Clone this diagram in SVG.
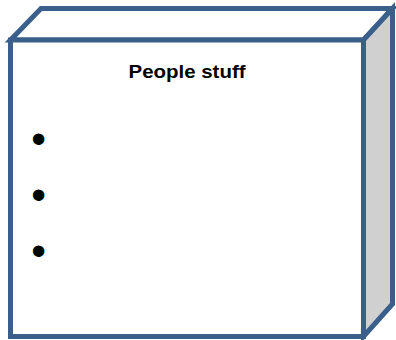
<svg xmlns="http://www.w3.org/2000/svg" width="396" height="340" viewBox="0 0 396 340">
<style>
.edge{stroke:#3A5F8B;stroke-width:5;stroke-linejoin:miter;}
.title{font-family:"Liberation Sans",Arial,sans-serif;font-weight:bold;font-size:18.5px;fill:#000;}
.bullet{font-family:"Liberation Sans",Arial,sans-serif;font-size:42px;fill:#000;}
</style>
<rect width="396" height="340" fill="#fff"/>
<g id="node-people-stuff">
<polygon class="edge" fill="#fff" points="10.5,40 41,8.5 392.5,8.5 363.5,40"/>
<polygon class="edge" fill="#D0D0D0" points="363.5,40 392.5,8.5 392.5,304 363.5,336.5"/>
<rect class="edge" fill="#fff" x="10.5" y="40" width="353" height="296.5"/>
<text class="title" x="187" y="77.5" text-anchor="middle" textLength="117" lengthAdjust="spacingAndGlyphs">People stuff</text>
<text class="bullet" x="38.5" y="153" text-anchor="middle">•</text>
<text class="bullet" x="38.5" y="209" text-anchor="middle">•</text>
<text class="bullet" x="38.5" y="265" text-anchor="middle">•</text>
</g>
</svg>
